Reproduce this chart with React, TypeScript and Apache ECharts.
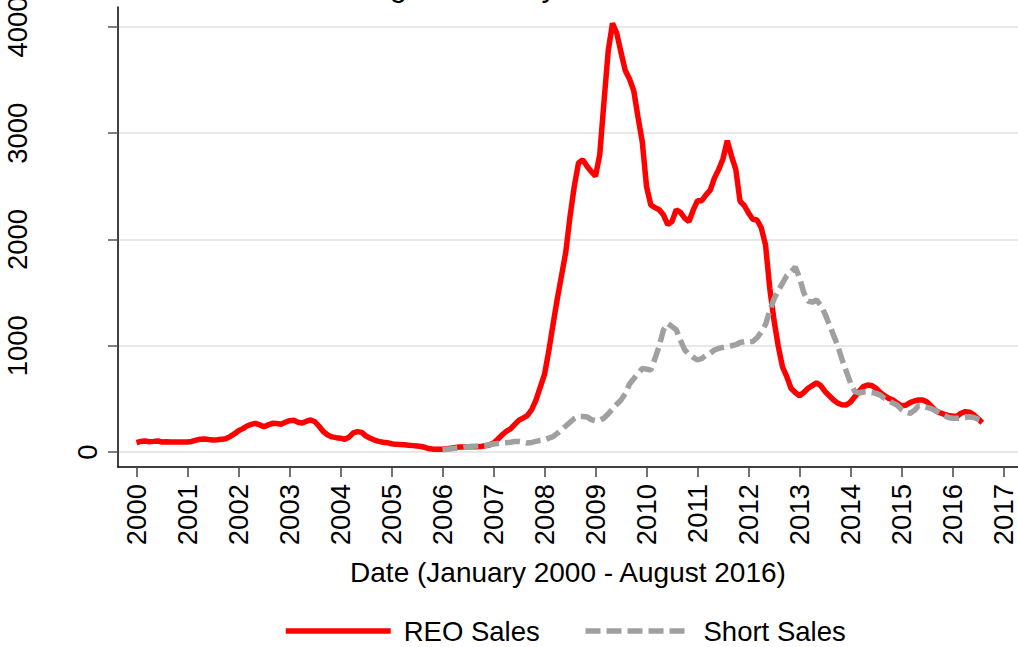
import React, { useEffect, useRef } from "react";
import * as echarts from "echarts";

const TITLE = "Las Vegas Monthly REO and Short Sales";
const X_NAME = "Date (January 2000 - August 2016)";
const SERIES_NAMES = ["REO Sales", "Short Sales"];

const YEAR_TICKS = [2000, 2001, 2002, 2003, 2004, 2005, 2006, 2007, 2008, 2009, 2010, 2011, 2012, 2013, 2014, 2015, 2016, 2017];
const Y_TICKS = [0, 1000, 2000, 3000, 4000];

// REO sales, monthly, Jan 2000 - Aug 2016
const reo2000 = [88, 100, 104, 97, 100, 104, 94, 97, 95, 95, 95, 95];
const reo2001 = [95, 100, 112, 120, 122, 117, 113, 115, 119, 125, 145, 170];
const reo2002 = [200, 220, 245, 260, 270, 255, 238, 255, 270, 268, 262, 280];
const reo2003 = [295, 298, 280, 272, 290, 301, 285, 240, 190, 160, 142, 135];
const reo2004 = [130, 118, 140, 180, 192, 185, 150, 130, 112, 100, 92, 88];
const reo2005 = [78, 72, 70, 68, 64, 60, 56, 52, 42, 30, 26, 25];
const reo2006 = [26, 30, 36, 42, 46, 48, 50, 50, 50, 52, 58, 66];
const reo2007 = [85, 120, 160, 195, 218, 260, 300, 320, 345, 400, 490, 610];
const reo2008 = [730, 950, 1200, 1440, 1660, 1880, 2215, 2500, 2720, 2750, 2690, 2640];
const reo2009 = [2595, 2800, 3300, 3780, 4035, 3941, 3760, 3590, 3510, 3400, 3150, 2920];
const reo2010 = [2500, 2325, 2300, 2280, 2230, 2140, 2170, 2280, 2255, 2200, 2170, 2278];
const reo2011 = [2365, 2365, 2420, 2465, 2580, 2660, 2760, 2930, 2785, 2660, 2360, 2320];
const reo2012 = [2250, 2190, 2184, 2110, 1950, 1540, 1240, 995, 800, 709, 600, 560];
const reo2013 = [530, 560, 600, 625, 650, 625, 570, 530, 490, 460, 445, 442];
const reo2014 = [470, 520, 570, 615, 630, 625, 600, 560, 530, 505, 489, 460];
const reo2015 = [435, 440, 465, 480, 489, 489, 470, 430, 390, 370, 355, 345];
const reo2016 = [338, 332, 365, 380, 375, 350, 315, 276];

// Short sales, monthly, Jan 2006 - Aug 2016
const short2006 = [20, 25, 30, 35, 40, 45, 50, 55, 56, 58, 62, 68];
const short2007 = [75, 80, 85, 88, 92, 98, 100, 95, 85, 90, 100, 110];
const short2008 = [115, 130, 144, 175, 210, 245, 280, 315, 335, 335, 330, 305];
const short2009 = [295, 300, 320, 360, 405, 450, 490, 550, 640, 690, 740, 785];
const short2010 = [780, 770, 880, 1000, 1150, 1210, 1180, 1150, 1050, 960, 920, 890];
const short2011 = [866, 880, 910, 930, 960, 975, 985, 992, 1000, 1010, 1030, 1038];
const short2012 = [1038, 1040, 1075, 1130, 1200, 1330, 1440, 1520, 1590, 1660, 1695, 1740];
const short2013 = [1640, 1500, 1420, 1410, 1430, 1380, 1300, 1200, 1100, 1000, 870, 760];
const short2014 = [650, 570, 555, 565, 568, 560, 552, 535, 505, 480, 460, 440];
const short2015 = [400, 375, 364, 390, 435, 435, 420, 408, 390, 365, 345, 325];
const short2016 = [317, 317, 320, 325, 332, 325, 310, 300];

const REO_START = 2000;
const SHORT_START = 2006;

const reoValues = [
  ...reo2000, ...reo2001, ...reo2002, ...reo2003, ...reo2004, ...reo2005, ...reo2006, ...reo2007,
  ...reo2008, ...reo2009, ...reo2010, ...reo2011, ...reo2012, ...reo2013, ...reo2014, ...reo2015, ...reo2016,
];
const shortValues = [
  ...short2006, ...short2007, ...short2008, ...short2009, ...short2010, ...short2011,
  ...short2012, ...short2013, ...short2014, ...short2015, ...short2016,
];

const toPoints = (start: number, vals: number[]) => vals.map((v, i) => [start + i / 12, v]);

const X_MIN = 1999.637;
const X_MAX = 2017.284;
const Y_MIN = -141.2;
const Y_MAX = 4188.2;

const FONT = "'Liberation Sans', Arial, Helvetica, sans-serif";
const FS = 27.5;
const RED = "#ff0000";
const GRAY = "#a0a0a0";
const DASH = [15, 6];
const LW = 5.5;

export default function App() {
  const ref = useRef<HTMLDivElement>(null);
  useEffect(() => {
    const chart = echarts.init(ref.current!, null, { renderer: "svg" });
    const fmt = (v: number) => String(Math.round(v));
    chart.setOption({
      animation: false,
      backgroundColor: "#ffffff",
      textStyle: { fontFamily: FONT },
      title: {
        text: TITLE,
        left: 290,
        top: -35,
        textStyle: { fontSize: 31, fontWeight: "normal", color: "#000", fontFamily: FONT },
      },
      grid: { left: 118, right: 0, top: 7, bottom: 180, containLabel: false, outerBoundsMode: "none" },
      legend: {
        left: 283,
        top: 617,
        padding: 0,
        itemWidth: 105,
        itemHeight: 14,
        itemGap: 43,
        data: [
          {
            name: SERIES_NAMES[0],
            itemStyle: { opacity: 0 },
            lineStyle: { color: RED, width: LW, type: "solid" },
          },
          {
            name: SERIES_NAMES[1],
            itemStyle: { opacity: 0 },
            lineStyle: { color: GRAY, width: LW, type: DASH },
          },
        ],
        textStyle: { fontSize: FS, color: "#000", fontFamily: FONT, padding: [0, 0, 0, 8] },
      },
      xAxis: {
        type: "value",
        min: X_MIN,
        max: X_MAX,
        name: X_NAME,
        nameLocation: "middle",
        nameGap: 91,
        nameTextStyle: { fontSize: 28, color: "#000", fontFamily: FONT },
        axisLine: { show: true, onZero: false, lineStyle: { color: "#000", width: 1.5 } },
        axisTick: { show: true, length: 10, customValues: YEAR_TICKS, lineStyle: { color: "#444", width: 1.5 } },
        axisLabel: { customValues: YEAR_TICKS, rotate: 90, margin: 17, fontSize: FS, color: "#000", fontFamily: FONT, formatter: fmt },
        splitLine: { show: false },
      },
      yAxis: [
        {
          type: "value",
          min: Y_MIN,
          max: Y_MAX,
          axisLine: { show: true, onZero: false, lineStyle: { color: "#000", width: 1.5 } },
          axisTick: { show: true, length: 10, customValues: Y_TICKS, lineStyle: { color: "#555", width: 1.5 } },
          axisLabel: {
            customValues: Y_TICKS.filter((v) => v !== 0),
            rotate: 90,
            margin: 87,
            fontSize: FS,
            color: "#000",
            fontFamily: FONT,
            formatter: fmt,
          },
          splitLine: { show: true, lineStyle: { color: "#e8e8e8", width: 2 } },
        },
        {
          type: "value",
          min: Y_MIN,
          max: Y_MAX,
          position: "left",
          axisLine: { show: false, onZero: false },
          axisTick: { show: false },
          splitLine: { show: false },
          axisLabel: {
            customValues: Y_TICKS.filter((v) => v === 0),
            rotate: 90,
            margin: 17,
            fontSize: FS,
            color: "#000",
            fontFamily: FONT,
            formatter: fmt,
          },
        },
      ],
      series: [
        {
          name: SERIES_NAMES[0],
          type: "line",
          data: toPoints(REO_START, reoValues),
          symbol: "none",
          showSymbol: false,
          clip: false,
          lineStyle: { color: RED, width: LW },
          itemStyle: { color: RED },
          emphasis: { disabled: true },
        },
        {
          name: SERIES_NAMES[1],
          type: "line",
          data: toPoints(SHORT_START, shortValues),
          symbol: "none",
          showSymbol: false,
          clip: false,
          lineStyle: { color: GRAY, width: LW, type: DASH },
          itemStyle: { color: GRAY },
          emphasis: { disabled: true },
        },
      ],
    });
    return () => chart.dispose();
  }, []);
  return (
    <div
      ref={ref}
      style={{ position: "fixed", left: 0, top: 0, width: 1018, height: 647, background: "#fff" }}
    />
  );
}
